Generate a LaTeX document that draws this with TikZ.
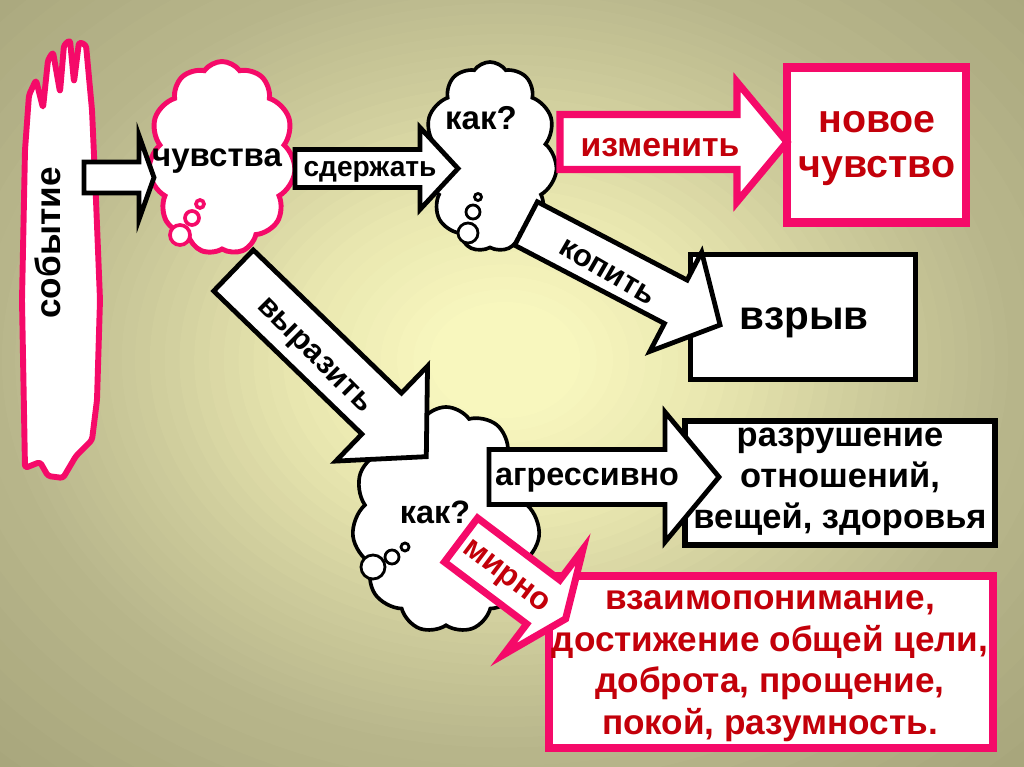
\documentclass[tikz,border=0pt]{standalone}
\usepackage{fontspec}
\setmainfont{Liberation Sans}
\usetikzlibrary{shapes.symbols}

\definecolor{rozov}{RGB}{245,10,105}
\definecolor{krasn}{RGB}{195,0,10}
\definecolor{bgin}{RGB}{250,249,192}
\definecolor{bgsv}{RGB}{232,230,175}
\definecolor{bgmid}{RGB}{205,203,155}
\definecolor{bgout}{RGB}{185,183,140}
\definecolor{bgugol}{RGB}{168,166,124}

% one ring band of the background: r from, r to, colour from, colour to
\newcommand{\fonband}[4]{%
    \foreach \t in {0,...,9}{
        \pgfmathsetmacro\rr{#1+(#2-#1)*\t/10}
        \pgfmathtruncatemacro\pp{10*\t}
        \fill[#4!\pp!#3] (505,360) ellipse [x radius=740*\rr*\pix, y radius=570*\rr*\pix];
    }%
}

\tikzset{
    pics/blockarrow/.style args={#1/#2/#3/#4}{
        code={
            \path[pic actions] (0,-#2) -- (#1,-#2) -- (#1,-#4) -- (#1+#3,0) -- (#1,#4) -- (#1,#2) -- (0,#2) -- cycle;
        }
    },
    blackarr/.style={draw=black, fill=white, line width=3.4pt, line join=miter, miter limit=12},
    pinkarr/.style={draw=rozov, fill=white, line width=5pt, line join=miter, miter limit=12},
    oblako/.style={cloud, cloud puffs=11, cloud puff arc=110, cloud ignores aspect,
        draw=black, fill=white, line width=2.6pt, inner sep=0pt},
    puzyr/.style={circle, draw=black, fill=white, line width=2pt, inner sep=0pt},
    ramka/.style={rectangle, draw=black, fill=white, line width=3.6pt, inner sep=0pt},
    tekst/.style 2 args={font=\bfseries\fontsize{#1}{#2}\selectfont, inner sep=0pt, align=center}
}

\begin{document}
\begin{tikzpicture}[x=0.025cm, y=-0.025cm]
    \def\pix{0.025cm}
    \useasboundingbox (0,0) rectangle (1024,767);
    \fill[bgugol] (0,0) rectangle (1024,767);
    \fonband{1}{0.68}{bgugol}{bgout}
    \fonband{0.68}{0.5}{bgout}{bgmid}
    \fonband{0.5}{0.3}{bgmid}{bgsv}
    \fonband{0.3}{0.08}{bgsv}{bgin}
    % sobytie
    \draw[draw=rozov, fill=white, line width=4.2pt, line join=round, rounded corners=2pt]
        (25,468) -- (22,300) -- (25,150) -- (29,95) -- (36,80) -- (43,108) -- (48,60)
        -- (53,52) -- (60,92) -- (64,45) -- (70,40) -- (74,82) -- (79,42) -- (86,45)
        -- (92,110) -- (96,200) -- (100,300) -- (97,400) -- (92,440) -- (76,456)
        -- (63,478) -- (48,476) -- (40,462) -- cycle;
    % oblaka
    \node[oblako, draw=rozov, line width=3.5pt, minimum width=147*\pix, minimum height=193*\pix] (chuv) at (222,158) {};
    \node[oblako, minimum width=134*\pix, minimum height=190*\pix] (kak1) at (490,157) {};
    \node[oblako, minimum width=188*\pix, minimum height=226*\pix] (kak2) at (446,520) {};
    % puzyri
    \node[puzyr, draw=rozov, line width=2.6pt, minimum size=8*\pix] (pc1) at (200,204) {};
    \node[puzyr, draw=rozov, line width=2.6pt, minimum size=14*\pix] (pc2) at (192,218) {};
    \node[puzyr, draw=rozov, line width=2.6pt, minimum size=20*\pix] (pc3) at (180,235) {};
    \node[puzyr, minimum size=7*\pix] (pa1) at (478,197) {};
    \node[puzyr, minimum size=14*\pix] (pa2) at (473,212) {};
    \node[puzyr, minimum size=20*\pix] (pa3) at (468,233) {};
    \node[puzyr, minimum size=8*\pix] (pb1) at (405,547) {};
    \node[puzyr, minimum size=14*\pix] (pb2) at (392,557) {};
    \node[puzyr, minimum size=24*\pix] (pb3) at (373,567) {};
    % ramki
    \node[ramka, draw=rozov, line width=5.7pt, minimum width=179*\pix, minimum height=155*\pix] (novoe) at (876,145) {};
    \node[ramka, minimum width=225*\pix, minimum height=125*\pix] (vzryv) at (803,317) {};
    \node[ramka, minimum width=310*\pix, minimum height=124*\pix] (razr) at (840,483) {};
    \node[ramka, draw=rozov, line width=5.7pt, minimum width=444*\pix, minimum height=172*\pix] (mir) at (771,662) {};
    % strelki
    \pic[blackarr] at (84,177.5) {blockarrow=55/15.5/15/42};
    \pic[blackarr] at (295,168.5) {blockarrow=125/19/38/41};
    \pic[pinkarr] at (560,142) {blockarrow=177/27.5/50/60};
    \pic[blackarr, rotate=-27.6] at (526,223.5) {blockarrow=169/24.5/50/56};
    \pic[blackarr, rotate=-44] at (233.5,270.5) {blockarrow=206/28.5/62/66};
    \pic[blackarr] at (489,477) {blockarrow=176/27.5/54/65};
    \pic[pinkarr, rotate=-37] at (461,540) {blockarrow=103/27.5/28/66};
    % nadpisi
    \node[tekst={25}{29}, rotate=90] (tSob) at (48,243) {событие};
    \node[tekst={23.5}{29}] (tChuv) at (217,161) {чувства};
    \node[tekst={20}{29}] (tSder) at (370,172) {сдержать};
    \node[tekst={23.5}{29}] (tKak1) at (481,118) {как?};
    \node[tekst={24}{29}, text=krasn] (tIzm) at (660,148) {изменить};
    \node[tekst={28}{32}, text=krasn] (tNov) at (877,148) {новое\\чувство};
    \node[tekst={22}{29}, rotate=-30] (tKop) at (607,272) {копить};
    \node[tekst={28.8}{29}] (tVzr) at (804,323) {взрыв};
    \node[tekst={22}{29}, rotate=-45] (tVyr) at (313,357) {выразить};
    \node[tekst={23}{29}] (tKak2) at (435,512) {как?};
    \node[tekst={23}{29}] (tAgr) at (587,480) {агрессивно};
    \node[tekst={24.5}{29.2}] (tRazr) at (840,482) {разрушение\\отношений,\\вещей, здоровья};
    \node[tekst={22.7}{29}, text=krasn, rotate=-37] (tMir) at (505,578) {мирно};
    \node[tekst={25}{29.5}, text=krasn] (tMirn) at (770,666) {взаимопонимание,\\достижение общей цели,\\доброта, прощение,\\покой, разумность.};
\end{tikzpicture}
\end{document}
